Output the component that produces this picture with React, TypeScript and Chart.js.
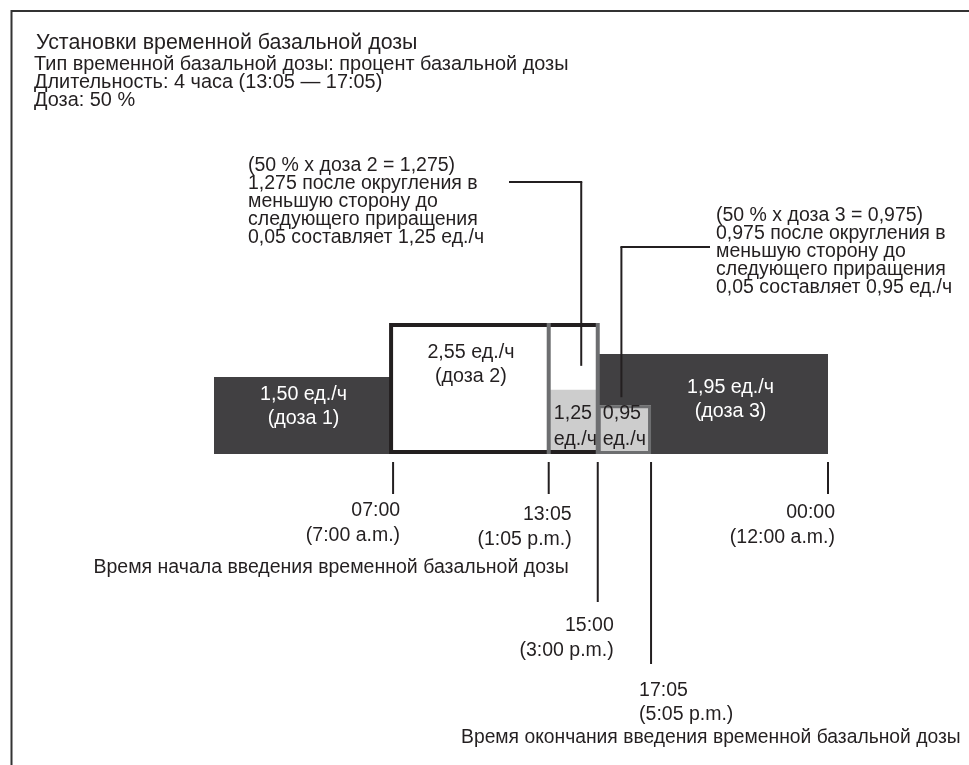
import React, { useEffect, useRef } from "react";
import { Chart, registerables } from "chart.js";

Chart.register(...registerables);

// ---------- data ----------
const basalStarts = [0, 7, 15];
const basalEnds = [7, 15, 24];
const basalRates = [1.5, 2.55, 1.95];
const basalRateLabels = ["1,50 ед./ч", "2,55 ед./ч", "1,95 ед./ч"];
const basalDoseLabels = ["(доза 1)", "(доза 2)", "(доза 3)"];

const tempStarts = [13.0833, 15];
const tempEnds = [15, 17.0833];
const tempRates = [1.25, 0.95];
const tempRateLabels = ["1,25", "0,95"];
const tempUnitLabels = ["ед./ч", "ед./ч"];

const tickTimes = [7, 13.0833, 15, 17.0833, 24];
const tickLabels24 = ["07:00", "13:05", "15:00", "17:05", "00:00"];
const tickLabels12 = ["(7:00 a.m.)", "(1:05 p.m.)", "(3:00 p.m.)", "(5:05 p.m.)", "(12:00 a.m.)"];

const headerTitle = "Установки временной базальной дозы";
const headerLines = [
  "Тип временной базальной дозы: процент базальной дозы",
  "Длительность: 4 часа (13:05 — 17:05)",
  "Доза: 50 %",
];
const callout1Lines = [
  "(50 % x доза 2 = 1,275)",
  "1,275 после округления в",
  "меньшую сторону до",
  "следующего приращения",
  "0,05 составляет 1,25 ед./ч",
];
const callout2Lines = [
  "(50 % x доза 3 = 0,975)",
  "0,975 после округления в",
  "меньшую сторону до",
  "следующего приращения",
  "0,05 составляет 0,95 ед./ч",
];
const startCaption = "Время начала введения временной базальной дозы";
const endCaption = "Время окончания введения временной базальной дозы";

// ---------- styles ----------
const FONT = '"Liberation Sans", Arial, Helvetica, sans-serif';
const TEXT = "#231f20";
const DARK = "#414042";
const LIGHT = "#cdcdcd";
const MID = "#6d6e70";
const W = 969;
const H = 765;

// label placement (pixel offsets relative to the marks)
const basalLabelDx = [0, 0, -9];
const basalLabelDy = [16, 28, 32];
const tickLineLen = [32, 32, 140, 202, 32];
const tickAlign: CanvasTextAlign[] = ["right", "right", "right", "left", "right"];
const tickLabelDx = [7, 23, 16, -12, 7];
const tick24Y = [509, 513, 624, 689, 511];
const tick12Y = [534, 538, 649, 713, 536];

function txt(
  ctx: CanvasRenderingContext2D,
  s: string,
  x: number,
  cy: number,
  size: number,
  color: string,
  align: CanvasTextAlign = "left"
) {
  ctx.font = `${size}px ${FONT}`;
  ctx.fillStyle = color;
  ctx.textAlign = align;
  ctx.textBaseline = "alphabetic";
  ctx.fillText(s, x, cy + size * 0.36);
}

function line(
  ctx: CanvasRenderingContext2D,
  x0: number,
  y0: number,
  x1: number,
  y1: number,
  w: number,
  color: string
) {
  ctx.beginPath();
  ctx.strokeStyle = color;
  ctx.lineWidth = w;
  ctx.lineCap = "butt";
  ctx.moveTo(x0, y0);
  ctx.lineTo(x1, y1);
  ctx.stroke();
}

const diagramPlugin = {
  id: "diagram",
  afterDraw(chart: any) {
    const ctx: CanvasRenderingContext2D = chart.ctx;
    const xs = chart.scales.x;
    const ys = chart.scales.y;
    const px = (v: number) => xs.getPixelForValue(v);
    const py = (v: number) => ys.getPixelForValue(v);
    const y0 = py(0);
    ctx.save();

    // frame
    line(ctx, 11, 11, W, 11, 2, "#333");
    line(ctx, 11.5, 10, 11.5, H, 2, "#333");

    // header
    txt(ctx, headerTitle, 36, 41, 21.4, TEXT);
    headerLines.forEach((s, i) => txt(ctx, s, 34, 63 + i * 18, 19.9, TEXT));

    // temp segment 2 border (gray)
    {
      const xa = px(tempStarts[1]);
      const xb = px(tempEnds[1]);
      const yt = py(tempRates[1]);
      ctx.strokeStyle = MID;
      ctx.lineWidth = 3;
      ctx.strokeRect(xa + 1.5, yt + 1.5, xb - xa - 3, y0 - yt - 3);
    }

    // dose 2 outline (temporary period box)
    {
      const xa = px(basalStarts[1]);
      const xb = px(basalEnds[1]);
      const yt = py(basalRates[1]);
      ctx.strokeStyle = TEXT;
      ctx.lineWidth = 4;
      ctx.beginPath();
      ctx.moveTo(xb, yt + 2);
      ctx.lineTo(xa - 2, yt + 2);
      ctx.lineTo(xa - 2, y0 - 2);
      ctx.lineTo(xb, y0 - 2);
      ctx.stroke();
      // gray dividers at temp start and end of dose 2
      line(ctx, px(tempStarts[0]), yt, px(tempStarts[0]), y0, 4, MID);
      line(ctx, xb, yt, xb, y0, 4, MID);
    }

    // basal labels
    basalRates.forEach((r, i) => {
      let xa = px(basalStarts[i]);
      let xe = px(basalEnds[i]);
      if (i === 1) xe = px(tempStarts[0]);
      if (i === 2) xa = px(tempEnds[1]);
      const cx = (xa + xe) / 2 + basalLabelDx[i];
      const yt = py(r);
      const color = i === 1 ? TEXT : "#ffffff";
      txt(ctx, basalRateLabels[i], cx, yt + basalLabelDy[i], 19.7, color, "center");
      txt(ctx, basalDoseLabels[i], cx, yt + basalLabelDy[i] + 24, 19.7, color, "center");
    });

    // temp labels
    tempRates.forEach((r, i) => {
      const xa = px(tempStarts[i]);
      txt(ctx, tempRateLabels[i], xa + 5, y0 - 42, 19.7, TEXT, "left");
      txt(ctx, tempUnitLabels[i], xa + 5, y0 - 16, 19.7, TEXT, "left");
    });

    // leader lines
    {
      const lx1 = (px(tempStarts[0]) + px(tempEnds[0])) / 2 + 8;
      const ly1 = py(tempRates[0]) - 24;
      line(ctx, lx1, 182, lx1, ly1, 2, TEXT);
      line(ctx, 509, 182, lx1 + 1, 182, 2, TEXT);
      const lx2 = (px(tempStarts[1]) + px(tempEnds[1])) / 2 - 3;
      const ly2 = py(tempRates[1]) - 8;
      line(ctx, lx2, 247, lx2, ly2, 2, TEXT);
      line(ctx, lx2 - 1, 247, 710, 247, 2, TEXT);
    }

    // callouts
    callout1Lines.forEach((s, i) => txt(ctx, s, 248, 164 + i * 18, 19.5, TEXT));
    callout2Lines.forEach((s, i) => txt(ctx, s, 716, 214 + i * 18, 19.5, TEXT));

    // time ticks
    tickTimes.forEach((t, i) => {
      const x = px(t);
      line(ctx, x, y0 + 8, x, y0 + 8 + tickLineLen[i], 2, TEXT);
      txt(ctx, tickLabels24[i], x + tickLabelDx[i], tick24Y[i], 19.5, TEXT, tickAlign[i]);
      txt(ctx, tickLabels12[i], x + tickLabelDx[i], tick12Y[i], 19.5, TEXT, tickAlign[i]);
    });
    txt(ctx, startCaption, px(tickTimes[1]) + 20, 566, 19.5, TEXT, "right");
    txt(ctx, endCaption, px(tickTimes[3]) - 190, 736, 19.3, TEXT, "left");

    ctx.restore();
  },
};

export default function App() {
  const ref = useRef<HTMLCanvasElement | null>(null);
  useEffect(() => {
    if (!ref.current) return;
    const datasets: any[] = [];
    basalRates.forEach((r, i) => {
      datasets.push({
        label: basalDoseLabels[i],
        data: [
          { x: basalStarts[i], y: r },
          { x: basalEnds[i], y: r },
        ],
        fill: "origin",
        backgroundColor: i === 1 ? "#ffffff" : DARK,
        borderColor: "rgba(0,0,0,0)",
        borderWidth: 0,
        pointRadius: 0,
        order: 3,
      });
    });
    tempRates.forEach((r, i) => {
      datasets.push({
        label: tempRateLabels[i],
        data: [
          { x: tempStarts[i], y: r },
          { x: tempEnds[i], y: r },
        ],
        fill: "origin",
        backgroundColor: LIGHT,
        borderColor: "rgba(0,0,0,0)",
        borderWidth: 0,
        pointRadius: 0,
        order: 1,
      });
    });
    const chart = new Chart(ref.current, {
      type: "line",
      data: { datasets },
      options: {
        animation: false,
        responsive: false,
        devicePixelRatio: 1,
        layout: { padding: { left: 214, right: 141, top: 300, bottom: 311 } },
        scales: {
          x: { type: "linear", min: 0, max: 24, display: false },
          y: { type: "linear", min: 0, max: 3, display: false },
        },
        plugins: {
          legend: { display: false },
          tooltip: { enabled: false },
          title: { display: false },
        },
      },
      plugins: [diagramPlugin],
    });
    return () => chart.destroy();
  }, []);
  return (
    <div style={{ position: "fixed", left: 0, top: 0, width: W, height: H, background: "#fff" }}>
      <canvas ref={ref} width={W} height={H} style={{ display: "block" }} />
    </div>
  );
}
